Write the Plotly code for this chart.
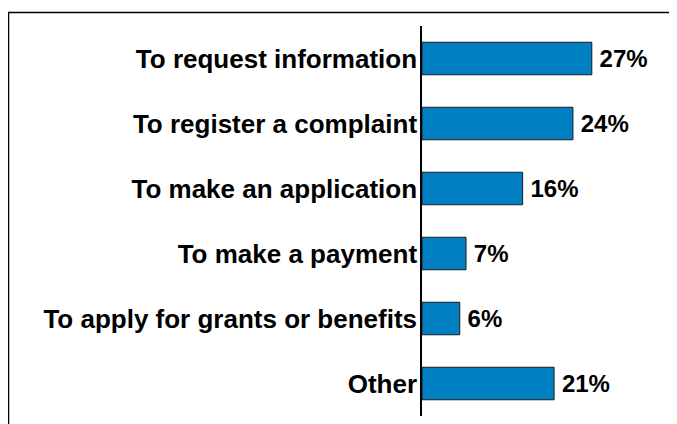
import plotly.graph_objects as go

reasons = ['To request information', 'To register a complaint',
           'To make an application', 'To make a payment',
           'To apply for grants or benefits', 'Other']
shares = [27, 24, 16, 7, 6, 21]

fig = go.Figure(go.Bar(
    x=shares,
    y=reasons,
    orientation='h',
    marker=dict(color='#0080C3', line=dict(color='#1a1a1a', width=1)),
    texttemplate='\u2009%{x}%',
    textposition='outside',
    textfont=dict(family='Liberation Sans, Arial', size=24, color='black',
                  weight='bold'),
    cliponaxis=False,
))

fig.update_yaxes(autorange='reversed',
                 showline=True, linecolor='black', linewidth=1.5,
                 ticks='', ticklabelstandoff=-2,
                 tickfont=dict(family='Liberation Sans, Arial', size=26,
                               color='black', weight='bold'))
fig.update_xaxes(range=[0, 39.75], visible=False, showgrid=False)

# outer frame, partly cut off by the window
fig.add_shape(type='rect', xref='paper', yref='paper',
              x0=-1.654, x1=2, y0=-0.5, y1=1.0346,
              line=dict(color='black', width=1.5), layer='below')

# the page body adds an 8px offset, so margins are trimmed by 8
fig.update_layout(
    width=677, height=424,
    margin=dict(l=414, r=13, t=18, b=16),
    bargap=0.5,
    plot_bgcolor='white', paper_bgcolor='white',
    showlegend=False,
)

fig.write_html('out.html')
